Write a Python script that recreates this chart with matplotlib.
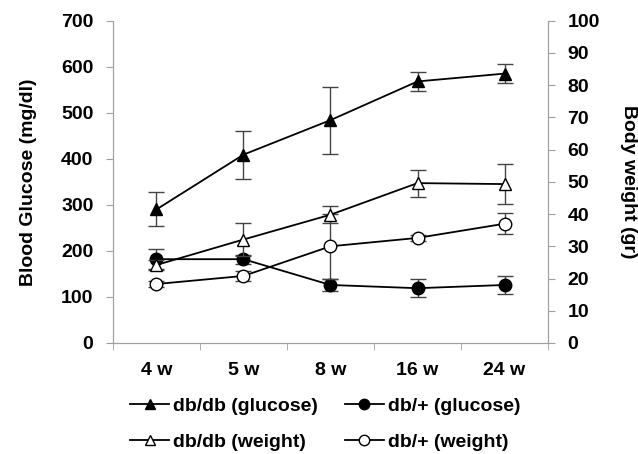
import numpy as np
import matplotlib.pyplot as plt
from matplotlib.lines import Line2D

plt.rcParams['font.family'] = ['Liberation Sans', 'DejaVu Sans']
plt.rcParams['font.weight'] = 'bold'

# Data
weeks = ['4 w', '5 w', '8 w', '16 w', '24 w']
dbdb_glucose = [290, 409, 484, 568, 585]
dbdb_glucose_err = [37, 52, 73, 21, 20]
dbp_glucose = [182, 182, 126, 119, 126]
dbp_glucose_err = [22, 10, 14, 20, 20]
dbdb_weight = [24.2, 32.1, 39.8, 49.6, 49.3]
dbdb_weight_err = [1.5, 5.0, 2.6, 4.2, 6.3]
dbp_weight = [18.3, 20.8, 30.0, 32.6, 37.0]
dbp_weight_err = [1.0, 1.5, 10.0, 1.0, 3.2]

x = np.arange(len(weeks))
gray = '#a0a0a0'
ecol = '#444444'
fs = 14

fig = plt.figure(figsize=(6.38, 4.54), dpi=100)
ax = fig.add_axes([0.177, 0.2445, 0.682, 0.710])
ax2 = ax.twinx()

line_kw = dict(color='black', lw=1.3, ecolor=ecol, elinewidth=1.0, capsize=6, capthick=1.0)
ms = 9
ax.errorbar(x, dbdb_glucose, yerr=dbdb_glucose_err, marker='^', ms=ms, mfc='black', mec='black', zorder=3, **line_kw)
ax.errorbar(x, dbp_glucose, yerr=dbp_glucose_err, marker='o', ms=ms, mfc='black', mec='black', zorder=3, **line_kw)
ax2.errorbar(x, dbdb_weight, yerr=dbdb_weight_err, marker='^', ms=ms, mfc='white', mec='black', zorder=3, **line_kw)
ax2.errorbar(x, dbp_weight, yerr=dbp_weight_err, marker='o', ms=ms, mfc='white', mec='black', zorder=3, **line_kw)

ax.set_xlim(-0.5, len(weeks) - 0.5)
ax.set_ylim(0, 700)
ax2.set_ylim(0, 100)
ax.set_yticks(np.arange(0, 701, 100))
ax2.set_yticks(np.arange(0, 101, 10))
ax.set_xticks(x)
ax.set_xticklabels(weeks)
ax.set_xticks(np.arange(-0.5, len(weeks)), minor=True)
ax.tick_params(axis='x', which='major', length=0, pad=14, labelsize=fs)
ax.tick_params(axis='x', which='minor', length=5, color=gray, direction='out')
ax.tick_params(axis='y', length=5, color=gray, labelsize=fs, pad=9)
ax2.tick_params(axis='y', length=5, color=gray, labelsize=fs, pad=9)

for a in (ax, ax2):
    a.spines['top'].set_visible(False)
    for s in ('left', 'right', 'bottom'):
        a.spines[s].set_color(gray)

ax.set_ylabel('Blood Glucose (mg/dl)', fontsize=fs, fontweight='bold', labelpad=17)
ax2.set_ylabel('Body weight (gr)', fontsize=fs, fontweight='bold', rotation=270, labelpad=27)

lms = 7.5
handles = [
    Line2D([], [], color='black', lw=1.3, marker='^', ms=lms, mfc='black', mec='black'),
    Line2D([], [], color='black', lw=1.3, marker='^', ms=lms, mfc='white', mec='black'),
    Line2D([], [], color='black', lw=1.3, marker='o', ms=lms, mfc='black', mec='black'),
    Line2D([], [], color='black', lw=1.3, marker='o', ms=lms, mfc='white', mec='black'),
]
labels = ['db/db (glucose)', 'db/db (weight)', 'db/+ (glucose)', 'db/+ (weight)']
fig.legend(handles, labels, ncol=2, loc='upper left', bbox_to_anchor=(0.204, 0.125),
           frameon=False, fontsize=fs, handlelength=2.0, handletextpad=0.2,
           columnspacing=1.4, labelspacing=0.95, borderaxespad=0, borderpad=0)

fig.savefig('out.png', dpi=100)
